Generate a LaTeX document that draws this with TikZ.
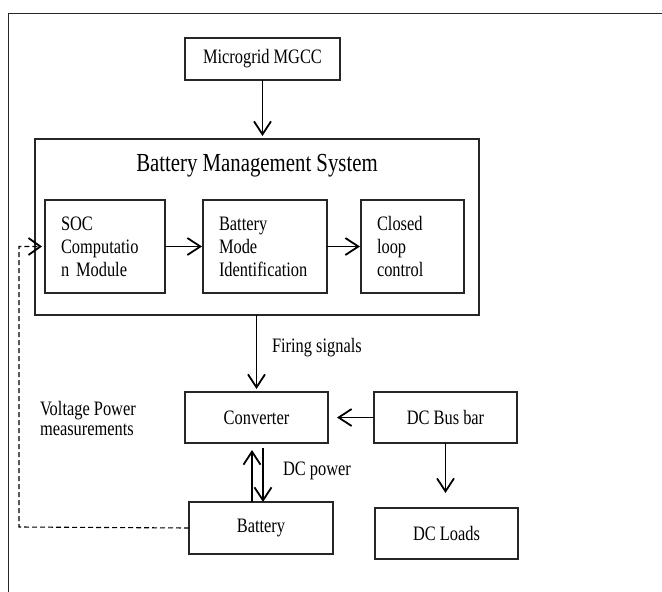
\documentclass[tikz,border=0pt]{standalone}
\usepackage{fontspec}
\setmainfont{Liberation Serif}[FakeStretch=0.8]
\usetikzlibrary{arrows.meta, positioning}

\begin{document}
\begin{tikzpicture}[
        x=1pt, y=-1pt,
        font=\fontsize{20.5}{23}\selectfont,
        every node/.style={inner sep=0pt, outer sep=0pt},
        % ===== Estilos =====
        blkbox/.style={rectangle, draw=black!85, line width=1.3pt, fill=white,
                       align=center},
        subbox/.style={blkbox, align=left, inner xsep=16pt, text width=#1,
                       minimum height=93pt},
        blklabel/.style={anchor=west, align=left},
        arr/.style={-{Straight Barb[length=13pt,width=17pt,line width=1.8pt]},
                    draw=black, line width=1.8pt, shorten >=3pt},
        fbline/.style={-{Straight Barb[length=12pt,width=17pt,line width=1.8pt]},
                       draw=black, line width=1.1pt, dash pattern=on 5pt off 3pt,
                       shorten >=3pt}
    ]
        \useasboundingbox (0,0) rectangle (662,592);

        % ===== Marco =====
        \draw[black!85, line width=1pt] (8,592) -- (8,13) -- (662,13);

        % ===== MGCC y BMS =====
        \node[blkbox, minimum width=155pt, minimum height=42pt] (mgcc) at (262.5,59) {Microgrid MGCC};
        \node[blkbox, minimum width=444pt, minimum height=176pt, fill=none] (bms) at (257,227) {};
        \node[font=\fontsize{26}{30}\selectfont] (bmstitle) at (257,166) {Battery Management System};

        % ===== Bloques internos del BMS =====
        \foreach \name/\xc/\tw/\txt in {%
            soc/105/88/{SOC\\Computatio\\n Module},
            bmi/265/92/{Battery\\Mode\\Identification},
            clc/412.5/71/{Closed\\loop\\control}%
        }{
            \node[subbox=\tw pt] (\name) at (\xc,246.5) {\txt};
        }

        % ===== Bloques de potencia =====
        \node[blkbox, minimum width=143pt, minimum height=51pt] (conv) at (256.5,417.5) {Converter};
        \node[blkbox, minimum width=143pt, minimum height=51pt] (dcbus) at (445.5,417.5) {DC Bus bar};
        \node[blkbox, minimum width=143pt, minimum height=51pt] (dcload) at (446.5,533.5) {DC Loads};
        \node[blkbox, minimum width=144pt, minimum height=52pt] (batt) at (261,528) {Battery};

        % ===== Etiquetas =====
        \node[blklabel] (firing) at (272,348) {Firing signals};
        \node[blklabel] (dcpow) at (283,471) {DC power};
        \node[blklabel, anchor=north west, font=\fontsize{20.5}{20}\selectfont] (vpm) at (40,401)
            {Voltage Power\\measurements};

        % ===== Flechas =====
        \draw[arr] (mgcc.south) -- (mgcc.south |- bms.north);
        \draw[arr, shorten >=1pt] (soc.east) -- (soc.east -| bmi.west);
        \draw[arr, shorten >=1pt] (bmi.east) -- (bmi.east -| clc.west);
        \draw[arr] (bms.south -| conv.north) -- (conv.north);
        \draw[arr, shorten >=9pt] (dcbus.west) -- (conv.east);
        \draw[arr, shorten >=15pt] (dcbus.south) -- (dcbus.south |- dcload.north);
        \draw[arr, shorten >=7pt] ([xshift=-9pt]batt.north) -- ([xshift=-9pt]batt.north |- conv.south);
        \draw[arr, shorten <=5pt, shorten >=0pt] ([xshift=6.5pt]conv.south) -- ([xshift=6.5pt]conv.south |- batt.north);

        % ===== Lazo de medición (punteado) =====
        \coordinate (fbk) at (19,527);
        \draw[fbline] (batt.west) -- (fbk) |- (soc.west);
    \end{tikzpicture}
\end{document}
